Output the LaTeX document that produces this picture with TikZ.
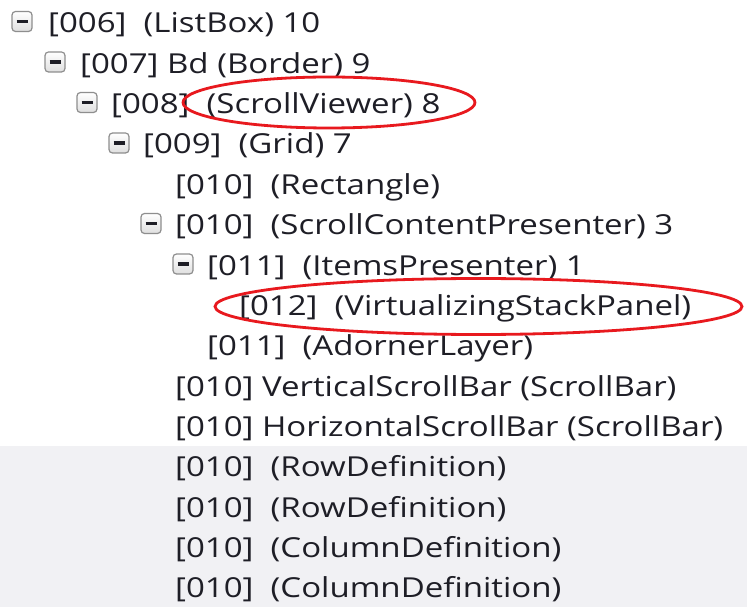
\documentclass[tikz,border=0pt]{standalone}
\usepackage{fontspec}
\setmainfont[FakeStretch=1.2]{Open Sans}
\usetikzlibrary{positioning}

\definecolor{textcol}{HTML}{1E1E26}
\definecolor{rowgray}{HTML}{F1F1F4}
\definecolor{markred}{HTML}{E8191E}
\definecolor{boxline}{HTML}{8E8E8E}

\tikzset{
    item/.style={anchor=base west, inner sep=0pt, text=textcol, font=\fontsize{27.5}{30}\selectfont},
    expander/.style={rectangle, draw=boxline, line width=1.2pt, rounded corners=3.5pt, minimum size=20pt, inner sep=0pt,
        top color=white, bottom color=gray!25,
        path picture={\draw[line width=3.2pt, textcol] ([xshift=-5.5pt]path picture bounding box.center) -- ([xshift=5.5pt]path picture bounding box.center);}},
    highlight/.style={draw=markred, line width=2.8pt}
}

\begin{document}
\begin{tikzpicture}[x=1pt, y=1pt]
            \useasboundingbox (0,0) rectangle (747,-612);
            \fill[white] (0,0) rectangle (747,-612);
            \fill[rowgray] (0,-446) rectangle (747,-607);

            \node[expander] (x0) at (22,-21.5) {};
            \node[expander] (x1) at (55,-62) {};
            \node[expander] (x2) at (87,-102.5) {};
            \node[expander] (x3) at (119,-143) {};
            \node[expander] (x5) at (151,-223.5) {};
            \node[expander] (x6) at (183,-264) {};

            \node[item] (r0) at (48,-33) {[006]~ (ListBox) 10};
            \node[item] (r1) at (80,-73.3) {[007] Bd (Border) 9};
            \node[item] (r2) at (111,-113.7) {[008]~ (ScrollViewer) 8};
            \node[item] (r3) at (143,-154) {[009]~ (Grid) 7};
            \node[item] (r4) at (175,-194.4) {[010]~ (Rectangle)};
            \node[item] (r5) at (175,-234.7) {[010]~ (ScrollContentPresenter) 3};
            \node[item] (r6) at (207,-275.1) {[011]~ (ItemsPresenter) 1};
            \node[item] (r7) at (239,-315.5) {[012]~ (VirtualizingStackPanel)};
            \node[item] (r8) at (207,-355.8) {[011]~ (AdornerLayer)};
            \node[item] (r9) at (175,-396.2) {[010] VerticalScrollBar (ScrollBar)};
            \node[item] (r10) at (175,-436.5) {[010] HorizontalScrollBar (ScrollBar)};
            \node[item] (r11) at (175,-476.9) {[010]~ (RowDefinition)};
            \node[item] (r12) at (175,-517.2) {[010]~ (RowDefinition)};
            \node[item] (r13) at (175,-557.6) {[010]~ (ColumnDefinition)};
            \node[item] (r14) at (175,-597.9) {[010]~ (ColumnDefinition)};

            \draw[highlight] (329,-102.5) ellipse [x radius=146pt, y radius=25.5pt];
            \draw[highlight] (478.5,-306.5) ellipse [x radius=263.5pt, y radius=28pt];
        \end{tikzpicture}
\end{document}
